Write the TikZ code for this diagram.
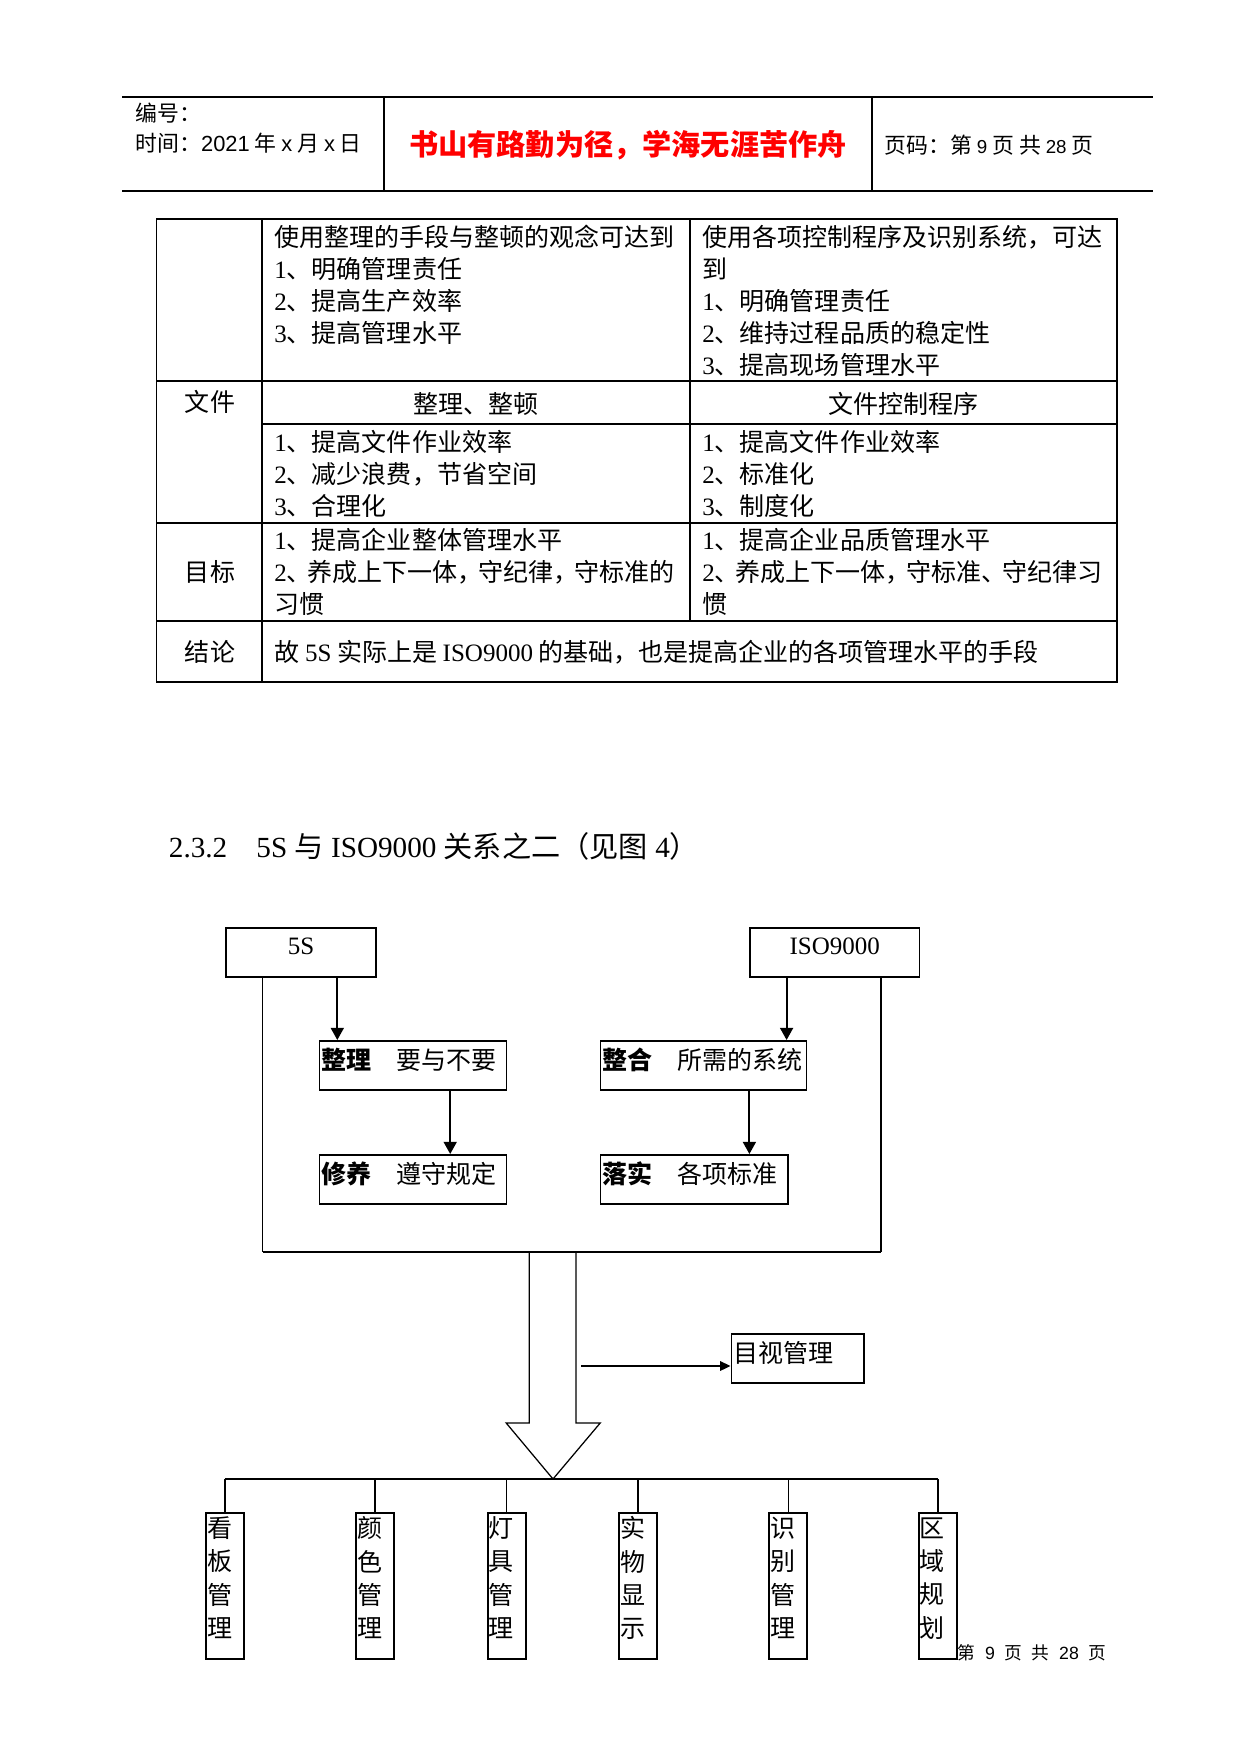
\documentclass[tikz,border=0pt]{standalone}
\usepackage{fontspec}
\setmainfont{Liberation Serif}
\setsansfont{Liberation Sans}
\newfontfamily\cjk{Noto Sans CJK SC}
\usetikzlibrary{arrows.meta,positioning}

\newdimen\pxu \pxu=0.4797pt
\newcommand\tm[1]{{\rmfamily #1}}
\newcommand\sn[1]{{\sffamily #1}}
\newcommand\vdp{\rule[-8.5pt]{0pt}{8.5pt}}
\newcommand\pk{\kern-2pt}

\tikzset{
  every node/.style={inner sep=0pt},
  txt/.style={font=\cjk\fontsize{12pt}{15.35pt}\selectfont},
  cell/.style={txt, anchor=base west},
  mcell/.style={txt, anchor=base},
  htxt/.style={anchor=base west, font=\cjk\fontsize{10.5pt}{12pt}\selectfont},
  motto/.style={anchor=base, text=red, font=\cjk\bfseries\fontsize{14pt}{16pt}\selectfont},
  tline/.style={line width=0.5pt},
  zbox/.style={txt, draw, line width=0.8pt, anchor=north west, inner xsep=1pt,
    inner ysep=3.75pt, text height=10pt, text depth=6pt, text width=#1},
  topbox/.style={zbox=#1, align=center, text height=9pt, text depth=7pt},
  vbox/.style={draw, line width=1pt, anchor=north, inner xsep=0.6pt, inner ysep=0pt,
    text width=17pt, align=left, minimum height=146\pxu,
    font=\cjk\fontsize{12pt}{16pt}\selectfont},
  arr/.style={line width=0.9pt, -{Triangle[length=5.8pt,width=6.2pt]}},
  arrb/.style={line width=0.9pt, -{Triangle[length=5pt,width=4.5pt]}}
}

\begin{document}
\begin{tikzpicture}[x=0.4797pt,y=-0.4797pt]
\useasboundingbox (0,0) rectangle (1241,1754);

% header
\draw[line width=0.7pt] (122,97) -- (1153,97);
\draw[line width=0.7pt] (122,191) -- (1153,191);
\draw[line width=0.7pt] (384,97) -- (384,191);
\draw[line width=0.7pt] (872,97) -- (872,191);
\node[htxt] (bh) at (135,121.3) {编号：};
\node[htxt] (sj) at (135,151) {时间：\sn{2021} 年 \sn{x} 月 \sn{x} 日};
\node[motto] (gy) at (628,155) {书山有路勤为径，学海无涯苦作舟};
\node[htxt] (ym) at (884,153.3) {页码：第 \sn{\fontsize{9pt}{10pt}\selectfont 9} 页 共 \sn{\fontsize{9pt}{10pt}\selectfont 28} 页};

% table
\draw[tline] (156.5,219) rectangle (1117,682);
\draw[tline] (262,219) -- (262,682);
\draw[tline] (690,219) -- (690,621);
\draw[tline] (156.5,381) -- (1117,381);
\draw[tline] (262,424) -- (1117,424);
\draw[tline] (156.5,523) -- (1117,523);
\draw[tline] (156.5,621) -- (1117,621);

\foreach \s [count=\i from 0] in {使用整理的手段与整顿的观念可达到, \tm{1}、明确管理责任,
    \tm{2}、提高生产效率, \tm{3}、提高管理水平}
  \node[cell] (r1b\i) at (274,246.5+32*\i) {\s};
\foreach \s [count=\i from 0] in {使用各项控制程序及识别系统，可达, 到, \tm{1}、明确管理责任,
    \tm{2}、维持过程品质的稳定性, \tm{3}、提高现场管理水平}
  \node[cell] (r1c\i) at (702,246.5+32*\i) {\s};

\node[mcell] (wj) at (210,411.5) {文件};
\node[mcell] (r2b) at (476,413.5) {整理、整顿};
\node[mcell] (r2c) at (903.5,413.5) {文件控制程序};

\foreach \s [count=\i from 0] in {\tm{1}、提高文件作业效率, \tm{2}、减少浪费，节省空间, \tm{3}、合理化}
  \node[cell] (r3b\i) at (274,451.5+31.8*\i) {\s};
\foreach \s [count=\i from 0] in {\tm{1}、提高文件作业效率, \tm{2}、标准化, \tm{3}、制度化}
  \node[cell] (r3c\i) at (702,451.5+31.8*\i) {\s};

\node[mcell] (mb) at (210,581.5) {目标};
\foreach \s [count=\i from 0] in {\tm{1}、提高企业整体管理水平, \tm{2}、\pk 养成上下一体，\pk 守纪律，\pk 守标准的, 习惯}
  \node[cell] (r4b\i) at (274,549.5+31.8*\i) {\s};
\foreach \s [count=\i from 0] in {\tm{1}、提高企业品质管理水平, \tm{2}、\pk 养成上下一体，\pk 守标准、\pk 守纪律习, 惯}
  \node[cell] (r4c\i) at (702,549.5+31.8*\i) {\s};

\node[mcell] (jl) at (210,661) {结论};
\node[cell] (r5b) at (274,661) {故 \tm{5S} 实际上是 \tm{ISO9000} 的基础，也是提高企业的各项管理水平的手段};

% section title
\node[anchor=base west, font=\fontsize{14pt}{16pt}\selectfont] (tt) at (168.5,857)
  {2.3.2\hspace{1em}5S {\cjk 与} ISO9000 {\cjk 关系之二（见图} 4{\cjk ）}};

% diagram boxes
\node[topbox={145.5\pxu}] (fives) at (225.4,927) {\rmfamily 5S};
\node[topbox={165\pxu}] (iso) at (749.4,927) {\rmfamily ISO9000};
\node[zbox={183\pxu}, align=left] (zl) at (318.5,1040) {\textbf{整理}\quad 要与不要};
\node[zbox={183\pxu}, align=left] (xy) at (318.5,1154) {\textbf{修养}\quad 遵守规定};
\node[zbox={201.8\pxu}, align=left] (zh) at (599.6,1040) {\textbf{整合}\quad 所需的系统};
\node[zbox={183.2\pxu}, align=left] (ls) at (599.8,1154) {\textbf{落实}\quad 各项标准};
\node[zbox={128.2\pxu}, align=left] (ms) at (730.6,1333) {目视管理};

% frame round the four boxes
\coordinate (ul) at (262.6,1252);
\coordinate (ur) at (881,1252);
\draw[line width=0.5pt] (fives.south -| ul) -- (ul);
\draw[line width=0.75pt] (iso.south -| ur) -- (ur);
\draw[line width=1.1pt] (ul) -- (ur);

\coordinate (a1) at (337.3,0);
\coordinate (a2) at (450.2,0);
\coordinate (a3) at (786.6,0);
\coordinate (a4) at (749.4,0);
\draw[arr] (fives.south -| a1) -- (zl.north -| a1);
\draw[arr] (zl.south -| a2) -- (xy.north -| a2);
\draw[arr] (iso.south -| a3) -- (zh.north -| a3);
\draw[arr] (zh.south -| a4) -- (ls.north -| a4);

% hollow arrow
\draw[line width=0.6pt] (529.3,1252) -- (529.3,1423) -- (506.2,1423) -- (553,1479)
  -- (600.2,1423) -- (576,1423) -- (576,1252);
\coordinate (vm) at (581.3,1366);
\draw[arrb] (vm) -- (vm -| ms.west);

% the six tools
\coordinate (tip) at (553,1479);
\foreach \nm/\xc/\ca/\cb/\cc/\cd in {kb/224.9/看/板/管/理, ys/375.2/颜/色/管/理, dj/506.6/灯/具/管/理,
    sw/638/实/物/显/示, sb/788.4/识/别/管/理, qy/937.7/区/域/规/划}
  \node[vbox] (\nm) at (\xc,1512) {\ca\\\cb\\\cc\\\cd\vdp};
\draw[line width=0.8pt] (kb.north |- tip) -- (qy.north |- tip);
\foreach \nm in {kb,ys,dj,sw,sb,qy}
  \draw[line width=0.8pt] (\nm.north) -- (\nm.north |- tip);

% footer
\node[anchor=base west, font=\cjk\fontsize{8.5pt}{10pt}\selectfont] (ft) at (957.4,1659)
  {第\hspace{4.6pt}\sn{9}\hspace{4.6pt}页\hspace{4.6pt}共\hspace{4.6pt}\sn{28}\hspace{4.6pt}页};
\end{tikzpicture}
\end{document}
